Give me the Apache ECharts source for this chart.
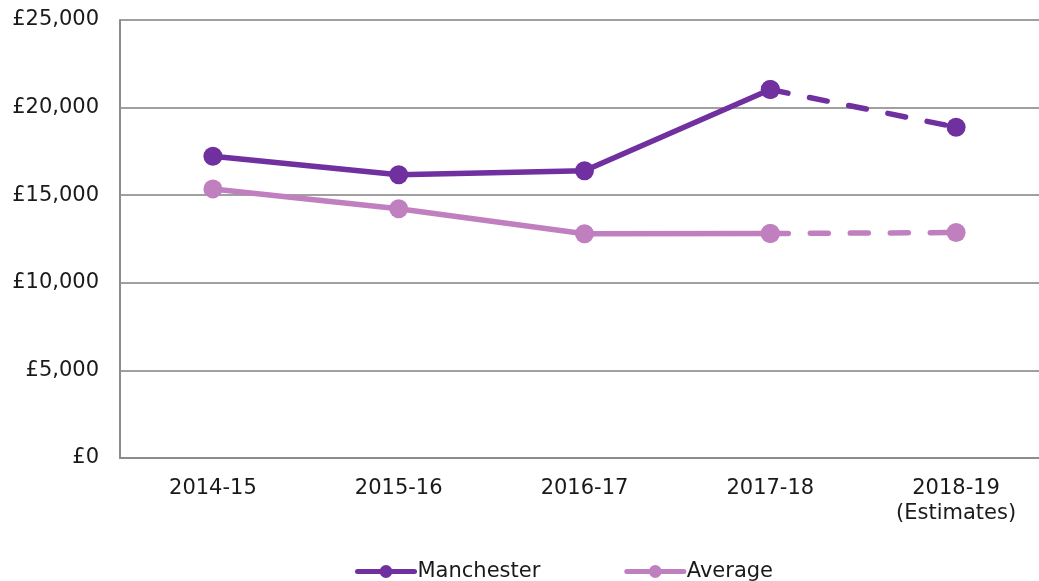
<!DOCTYPE html>
<html>
<head>
<meta charset="utf-8">
<script src="https://cdn.jsdelivr.net/npm/echarts@6/dist/echarts.min.js"></script>
<style>
    html, body { margin: 0; padding: 0; background: #fff; overflow: hidden; }
    /* canvas runs a bit wider than the window: the plot is cut off at the right edge */
    #chart { width: 1060px; height: 581px; }
</style>
</head>
<body>
<div id="chart"></div>
<script>
    var years = ['2014-15', '2015-16', '2016-17', '2017-18', '2018-19\n(Estimates)'];
    var manchester = [17220, 16170, 16400, 21030, 18880];
    var average = [15360, 14230, 12800, 12810, 12870];
    var yTicks = { min: 0, max: 25000, interval: 5000 };

    // solid part runs up to 2017-18, the estimate segment is dashed
    var lastActual = 3;
    function solidPart(arr) {
        return arr.map(function (v, i) { return i <= lastActual ? v : '-'; });
    }
    function dashedPart(arr) {
        return arr.map(function (v, i) { return i >= lastActual ? v : '-'; });
    }

    var purple = '#7030a0';
    var lilac = '#c080c0';
    var font = 'DejaVu Sans, Verdana, sans-serif';

    function lineSeries(name, data, color, dashed) {
        return {
            name: name,
            type: 'line',
            data: data,
            symbol: 'circle',
            symbolSize: 19,
            showSymbol: true,
            itemStyle: { color: color },
            lineStyle: {
                color: color,
                width: 5.5,
                type: dashed ? [18, 22] : 'solid',
                cap: 'round'
            },
            emphasis: { disabled: true },
            animation: false
        };
    }

    var myChart = echarts.init(document.getElementById('chart'));
    myChart.setOption({
        backgroundColor: '#fff',
        grid: {
            left: 120,
            right: 11,
            top: 20,
            bottom: 123,
            containLabel: false
        },
        legend: {
            data: ['Manchester', 'Average'],
            top: 561,
            left: 355,
            padding: 0,
            itemWidth: 57,
            itemHeight: 16,
            itemGap: 84,
            lineStyle: { width: 5 },
            textStyle: {
                fontFamily: font,
                fontSize: 21,
                color: '#1a1a1a',
                padding: [0, 0, 0, -2]
            }
        },
        xAxis: {
            type: 'category',
            data: years,
            boundaryGap: true,
            axisLine: { lineStyle: { color: '#8c8c8c', width: 2 } },
            axisTick: { show: false },
            axisLabel: {
                fontFamily: font,
                fontSize: 21,
                color: '#1a1a1a',
                margin: 18,
                lineHeight: 25,
                interval: 0
            }
        },
        yAxis: {
            type: 'value',
            min: yTicks.min,
            max: yTicks.max,
            interval: yTicks.interval,
            axisLine: { show: true, lineStyle: { color: '#8c8c8c', width: 2 } },
            axisTick: { show: false },
            splitLine: { lineStyle: { color: '#a0a0a0', width: 2 } },
            axisLabel: {
                fontFamily: font,
                fontSize: 21,
                color: '#1a1a1a',
                margin: 21,
                formatter: function (v) {
                    return '£' + v.toLocaleString('en-GB');
                }
            }
        },
        series: [
            lineSeries('Manchester', solidPart(manchester), purple, false),
            lineSeries('Average', solidPart(average), lilac, false),
            lineSeries('Manchester', dashedPart(manchester), purple, true),
            lineSeries('Average', dashedPart(average), lilac, true)
        ]
    });
</script>
</body>
</html>
